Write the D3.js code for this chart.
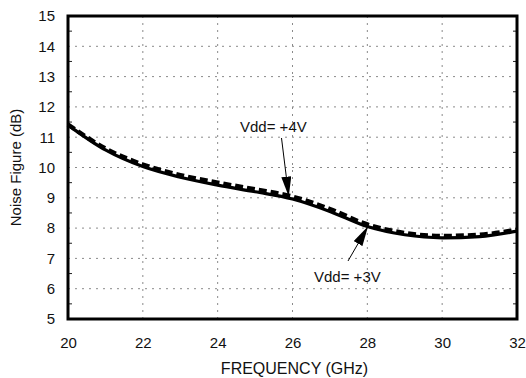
<!DOCTYPE html>
<html>
<head>
<meta charset="utf-8">
<script src="https://cdn.jsdelivr.net/npm/d3@7"></script>
<style>
  html, body { margin: 0; padding: 0; background: #fff; }
  svg { display: block; font-family: "Liberation Sans", Arial, Helvetica, sans-serif; }
</style>
</head>
<body>
<svg id="chart" width="526" height="378"></svg>
<script>
// Frequency points (GHz)
const freq = [20, 21, 22, 23, 24, 25, 26, 27, 28, 29, 30, 31, 32];
// Noise figure (dB) at Vdd = +3V (solid trace)
const nf3V = [11.40, 10.58, 10.03, 9.68, 9.42, 9.20, 8.96, 8.55, 8.05, 7.78, 7.68, 7.72, 7.90];
// Noise figure (dB) at Vdd = +4V (dashed trace)
const nf4V = [11.42, 10.63, 10.10, 9.75, 9.50, 9.28, 9.04, 8.63, 8.12, 7.84, 7.74, 7.78, 7.95];

const xTicks = [20, 22, 24, 26, 28, 30, 32];
const yTicks = [5, 6, 7, 8, 9, 10, 11, 12, 13, 14, 15];

const W = 526, H = 378;
const m = { left: 68, right: 9, top: 16, bottom: 59 };
const svg = d3.select("#chart");

const x = d3.scaleLinear().domain([20, 32]).range([m.left, W - m.right]);
const y = d3.scaleLinear().domain([5, 15]).range([H - m.bottom, m.top]);

// Dotted grid
const grid = svg.append("g").attr("stroke", "#8a8a8a").attr("stroke-width", 1)
  .attr("stroke-dasharray", "2,5");
grid.selectAll("line.v").data(xTicks.slice(1, -1)).enter().append("line")
  .attr("x1", d => x(d)).attr("x2", d => x(d))
  .attr("y1", y(15)).attr("y2", y(5));
grid.selectAll("line.h").data(yTicks.slice(1, -1)).enter().append("line")
  .attr("x1", x(20)).attr("x2", x(32))
  .attr("y1", d => y(d)).attr("y2", d => y(d));

// Axes (labels only; the frame is drawn separately)
const xAxis = svg.append("g").attr("transform", `translate(0,${H - m.bottom})`)
  .call(d3.axisBottom(x).tickValues(xTicks).tickSize(0).tickPadding(18));
const yAxis = svg.append("g").attr("transform", `translate(${m.left},0)`)
  .call(d3.axisLeft(y).tickValues(yTicks).tickSize(0).tickPadding(13));
[xAxis, yAxis].forEach(a => {
  a.select(".domain").remove();
  a.selectAll("text").attr("font-size", 15).attr("fill", "#111")
    .attr("font-family", "'Liberation Sans', Arial, sans-serif");
});

// Small inward minor ticks on the frame
const minorY = d3.range(5.5, 15, 1);
const ticks = svg.append("g").attr("stroke", "#222").attr("stroke-width", 1);
ticks.selectAll("line.yl").data(minorY).enter().append("line")
  .attr("x1", x(20)).attr("x2", x(20) + 4).attr("y1", d => y(d)).attr("y2", d => y(d));
ticks.selectAll("line.yr").data(minorY).enter().append("line")
  .attr("x1", x(32)).attr("x2", x(32) - 4).attr("y1", d => y(d)).attr("y2", d => y(d));

// Curves
const line = d3.line().x(d => x(d[0])).y(d => y(d[1])).curve(d3.curveMonotoneX);
svg.append("path").datum(d3.zip(freq, nf3V))
  .attr("d", line).attr("fill", "none").attr("stroke", "#000")
  .attr("stroke-width", 3.2).attr("stroke-linejoin", "round");
svg.append("path").datum(d3.zip(freq, nf4V))
  .attr("d", line).attr("fill", "none").attr("stroke", "#000")
  .attr("stroke-width", 4.4).attr("stroke-dasharray", "8,4");

// Plot frame
svg.append("rect")
  .attr("x", x(20)).attr("y", y(15))
  .attr("width", x(32) - x(20)).attr("height", y(5) - y(15))
  .attr("fill", "none").attr("stroke", "#000").attr("stroke-width", 3);

// Axis titles
svg.append("text").attr("x", (x(20) + x(32)) / 2 + 2).attr("y", 374)
  .attr("text-anchor", "middle").attr("font-size", 16).attr("fill", "#111")
  .text("FREQUENCY (GHz)");
svg.append("text")
  .attr("transform", `translate(21,${(y(5) + y(15)) / 2}) rotate(-90)`)
  .attr("text-anchor", "middle").attr("font-size", 15).attr("fill", "#111")
  .text("Noise Figure (dB)");

// Annotations with arrows
const defs = svg.append("defs");
defs.append("marker").attr("id", "head").attr("viewBox", "0 0 20 10")
  .attr("refX", 20).attr("refY", 5).attr("markerWidth", 20).attr("markerHeight", 10)
  .attr("markerUnits", "userSpaceOnUse").attr("orient", "auto")
  .append("path").attr("d", "M0,0 L20,5 L0,10 Z").attr("fill", "#000");

svg.append("text").attr("x", 240).attr("y", 132).attr("font-size", 15).attr("fill", "#111")
  .text("Vdd= +4V");
svg.append("line").attr("x1", 281.5).attr("y1", 138).attr("x2", x(25.9)).attr("y2", y(9.04))
  .attr("stroke", "#000").attr("stroke-width", 1).attr("marker-end", "url(#head)");

svg.append("text").attr("x", 314).attr("y", 282).attr("font-size", 15).attr("fill", "#111")
  .text("Vdd= +3V");
svg.append("line").attr("x1", 348).attr("y1", 261).attr("x2", x(28.02)).attr("y2", y(8.06))
  .attr("stroke", "#000").attr("stroke-width", 1).attr("marker-end", "url(#head)");
</script>
</body>
</html>
